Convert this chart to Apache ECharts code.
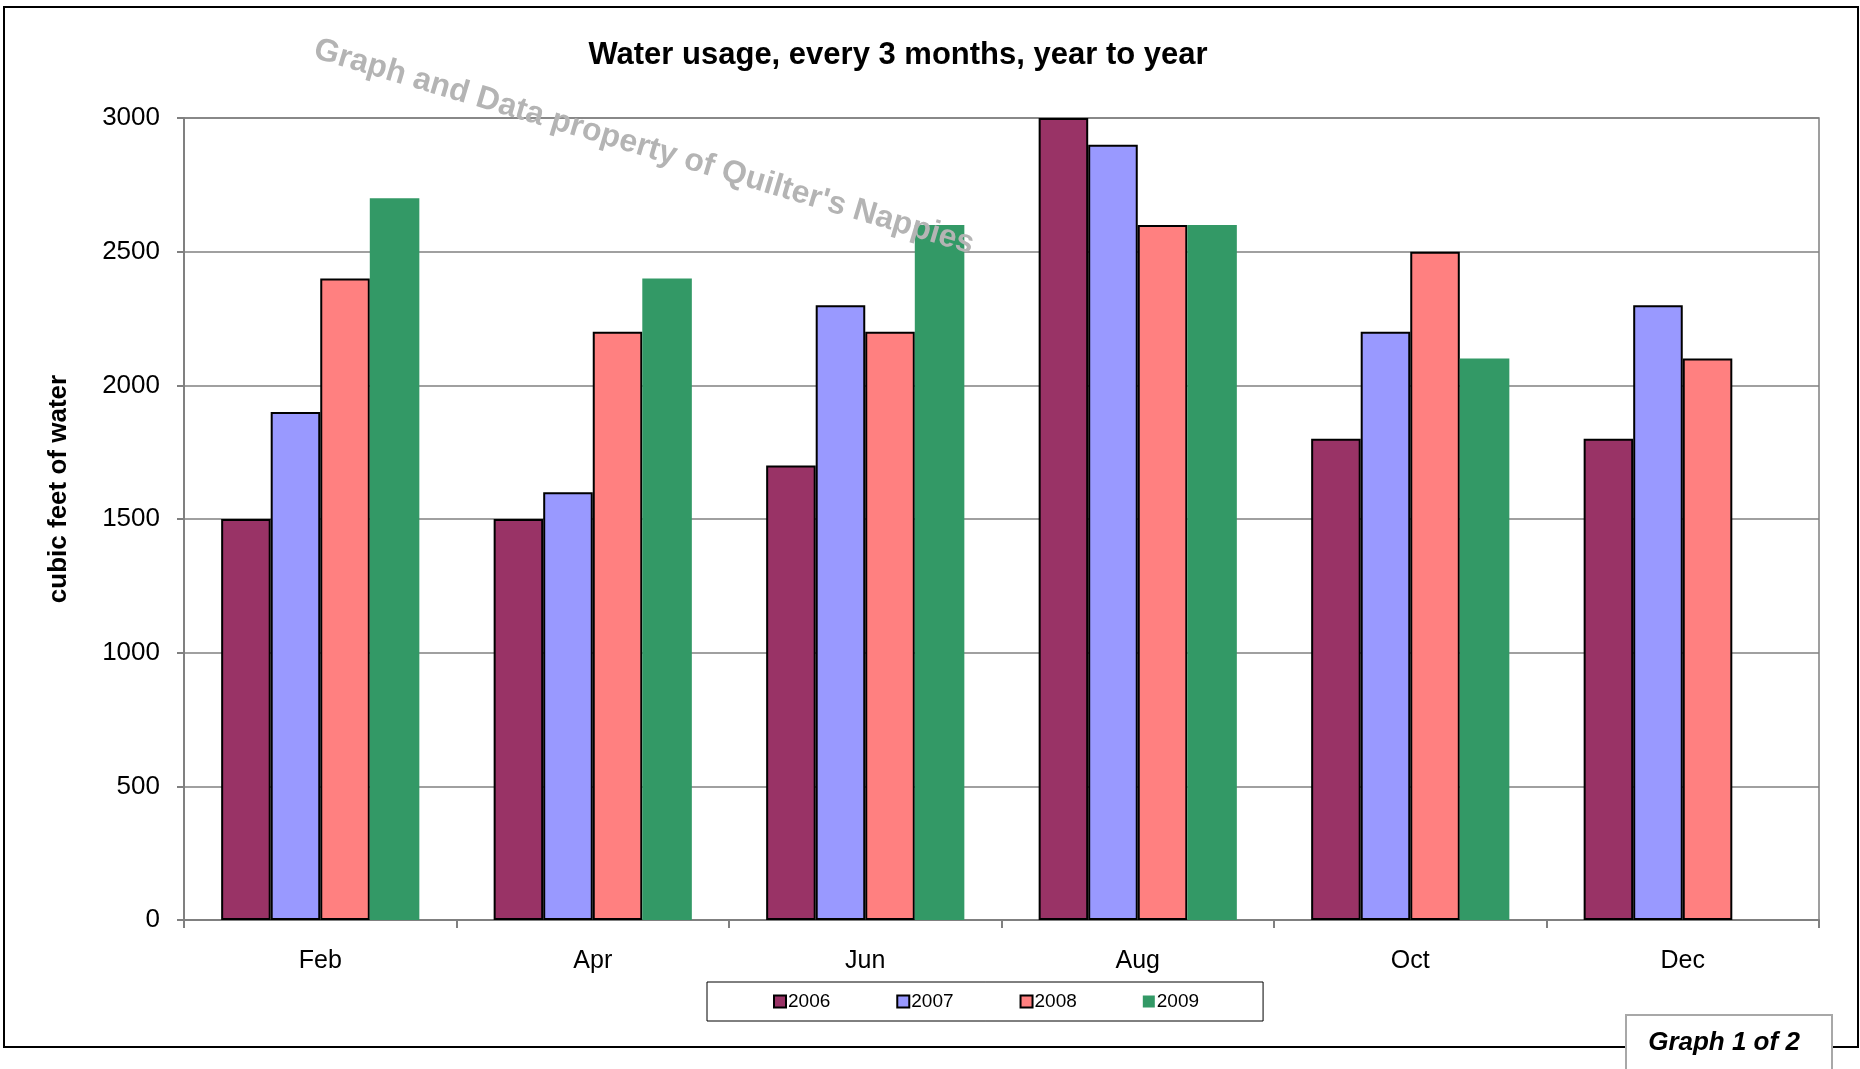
<!DOCTYPE html>
<html>
<head>
<meta charset="utf-8">
<script src="https://cdn.jsdelivr.net/npm/echarts@6/dist/echarts.min.js"></script>
<style>
html,body{margin:0;padding:0;background:#fff;}
#chart{width:1860px;height:1069px;}
</style>
</head>
<body>
<div id="chart"></div>
<script>
var categories = ['Feb', 'Apr', 'Jun', 'Aug', 'Oct', 'Dec'];
var seriesNames = ['2006', '2007', '2008', '2009'];
var values2006 = [1500, 1500, 1700, 3000, 1800, 1800];
var values2007 = [1900, 1600, 2300, 2900, 2200, 2300];
var values2008 = [2400, 2200, 2200, 2600, 2500, 2100];
var values2009 = [2700, 2400, 2600, 2600, 2100, '-'];
var yTicks = [0, 500, 1000, 1500, 2000, 2500, 3000];

var FONT = '"Liberation Sans", Arial, sans-serif';
var colors = ['#993366', '#9999FF', '#FF8080', '#339966'];
var borders = [2, 2, 2, 0];
var allValues = [values2006, values2007, values2008, values2009];

var chart = echarts.init(document.getElementById('chart'), null, {renderer: 'canvas'});

var series = seriesNames.map(function (name, i) {
  return {
    name: name,
    type: 'bar',
    data: allValues[i],
    barGap: '0%',
    barCategoryGap: '27.27%',
    itemStyle: {
      color: colors[i],
      borderColor: '#000',
      borderWidth: borders[i]
    },
    emphasis: {disabled: true},
    animation: false
  };
});

var option = {
  animation: false,
  textStyle: {fontFamily: FONT},
  title: {
    text: 'Water usage, every 3 months, year to year',
    left: 893,
    top: 50,
    textAlign: 'center',
    textVerticalAlign: 'middle',
    textStyle: {fontFamily: FONT, fontSize: 31, fontWeight: 'bold', color: '#000'}
  },
  grid: {
    left: 184, top: 118, right: 41, bottom: 149,
    show: true, borderColor: '#808080', borderWidth: 1.5, backgroundColor: 'transparent'
  },
  legend: {
    data: seriesNames,
    left: 707,
    top: 982,
    padding: [10, 64, 10, 66],
    itemGap: 66,
    itemWidth: 12,
    itemHeight: 12,
    icon: 'rect',
    borderColor: '#000',
    borderWidth: 1,
    backgroundColor: '#fff',
    textStyle: {fontFamily: FONT, fontSize: 19, color: '#000', padding: [0, 0, 0, -3]}
  },
  xAxis: {
    type: 'category',
    data: categories,
    axisLine: {lineStyle: {color: '#808080', width: 2}},
    axisTick: {show: true, length: 8, lineStyle: {color: '#808080', width: 2}},
    axisLabel: {fontFamily: FONT, fontSize: 25, color: '#000', margin: 29},
    splitLine: {show: false}
  },
  yAxis: {
    type: 'value',
    min: yTicks[0],
    max: yTicks[yTicks.length - 1],
    interval: yTicks[1] - yTicks[0],
    axisLine: {show: true, lineStyle: {color: '#808080', width: 2}},
    axisTick: {show: true, length: 7, lineStyle: {color: '#808080', width: 2}},
    axisLabel: {fontFamily: FONT, fontSize: 26, color: '#000', margin: 24,
      formatter: function (v) { return String(v); }},
    splitLine: {show: true, lineStyle: {color: '#808080', width: 1.5}}
  },
  graphic: [
    {
      type: 'rect',
      z: -10,
      shape: {x: 4, y: 7, width: 1854, height: 1040},
      style: {fill: 'none', stroke: '#000', lineWidth: 2},
      silent: true
    },
    {
      type: 'text',
      x: 59, y: 489,
      rotation: Math.PI / 2,
      style: {
        text: 'cubic feet of water',
        font: 'bold 26px ' + FONT,
        fill: '#000',
        textAlign: 'center',
        textVerticalAlign: 'middle'
      },
      silent: true
    },
    {
      type: 'text',
      x: 644, y: 147,
      rotation: -16.6 * Math.PI / 180,
      z: 100,
      style: {
        text: "Graph and Data property of Quilter's Nappies",
        font: 'bold 32px ' + FONT,
        fill: '#b4b4b4',
        textAlign: 'center',
        textVerticalAlign: 'middle'
      },
      silent: true
    },
    {
      type: 'rect',
      z: 100,
      shape: {x: 1626, y: 1015, width: 206, height: 70},
      style: {fill: '#fff', stroke: '#a8a8a8', lineWidth: 2},
      silent: true
    },
    {
      type: 'text',
      z: 101,
      x: 1724, y: 1043,
      style: {
        text: 'Graph 1 of 2',
        font: 'italic bold 26px ' + FONT,
        fill: '#000',
        textAlign: 'center',
        textVerticalAlign: 'middle'
      },
      silent: true
    }
  ],
  series: series
};
chart.setOption(option);
</script>
</body>
</html>
